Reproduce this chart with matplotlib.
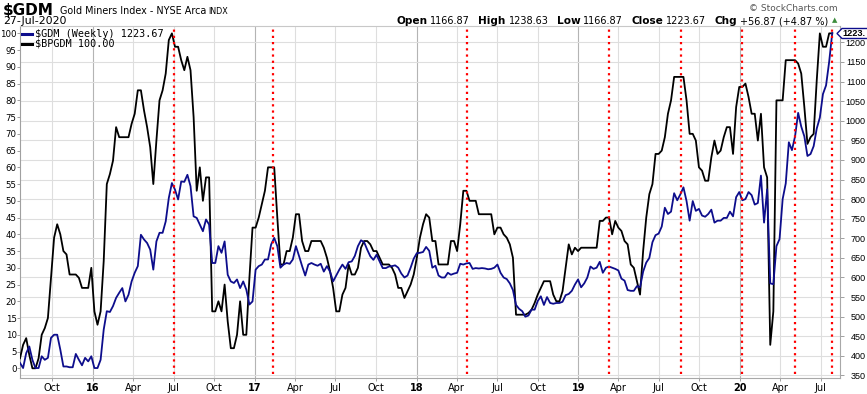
import matplotlib
matplotlib.use("Agg")
import matplotlib.pyplot as plt
import matplotlib.dates as mdates
from matplotlib.lines import Line2D
from matplotlib.patches import Polygon
from matplotlib.transforms import blended_transform_factory
import pandas as pd

W, H = 867, 394

# Weekly closes, 20-Jul-2015 .. 27-Jul-2020
bpgdm = [
    3, 7, 9, 4, 0, 0, 3, 10, 12, 15,
    27, 39, 43, 40, 35, 34, 28, 28, 28, 27,
    24, 24, 24, 30, 17, 13, 17, 32, 55, 58,
    62, 72, 69, 69, 69, 69, 73, 76, 83, 83,
    77, 72, 66, 55, 68, 80, 83, 88, 98, 100,
    96, 96, 92, 89, 93, 89, 75, 53, 60, 50,
    57, 57, 17, 17, 20, 17, 25, 14, 6, 6,
    10, 20, 10, 10, 27, 42, 42, 45, 49, 53,
    60, 60, 60, 45, 31, 31, 35, 35, 39, 46,
    46, 38, 35, 35, 38, 38, 38, 38, 36, 33,
    29, 24, 17, 17, 22, 24, 31, 28, 28, 30,
    36, 38, 38, 37, 35, 35, 33, 31, 31, 31,
    30, 28, 24, 24, 21, 23, 25, 28, 33, 39,
    43, 46, 45, 38, 38, 31, 31, 31, 31, 38,
    38, 35, 43, 53, 53, 50, 50, 50, 46, 46,
    46, 46, 46, 40, 42, 42, 40, 39, 37, 33,
    16, 16, 16, 16, 16.5, 17.5, 19.5, 22, 24, 26,
    26, 26, 22, 20, 20, 23, 30, 37, 34, 36,
    35, 36, 36, 36, 36, 36, 36, 44, 44, 45,
    45, 40, 44, 42, 41, 38, 37, 31, 30, 26,
    22, 35, 45, 52, 55, 64, 64, 65, 69, 76,
    80, 87, 87, 87, 87, 80, 70, 70, 68, 60,
    59, 56, 56, 63, 68, 64, 65, 69, 72, 72,
    64, 78, 84, 84, 85, 81, 76, 76, 68, 76,
    60, 57, 7, 17, 80, 80, 80, 92, 92, 92,
    92, 91, 88, 78, 67, 69, 70, 86, 100, 96,
    96, 100, 100,
]

gdm = [
    382, 369, 407, 424, 390, 369, 369, 399, 390, 395,
    446, 454, 454, 416, 373, 373, 371, 371, 405, 390,
    376, 395, 386, 399, 369, 369, 390, 467, 514, 512,
    527, 548, 561, 573, 539, 556, 590, 612, 629, 709,
    697, 688, 671, 620, 692, 714, 714, 743, 803, 841,
    824, 799, 845, 844, 862, 833, 756, 752, 735, 718,
    748, 735, 637, 637, 680, 663, 692, 607, 590, 586,
    595, 573, 590, 569, 531, 539, 620, 629, 633, 646,
    646, 684, 701, 680, 625, 633, 637, 635, 646, 680,
    655, 629, 605, 633, 637, 633, 630, 635, 615, 629,
    615, 590, 605, 620, 633, 622, 639, 641, 655, 680,
    695, 690, 671, 654, 645, 658, 641, 624, 624, 628,
    629, 631, 625, 610, 600, 605, 625, 648, 662, 663,
    665, 678, 668, 625, 630, 605, 600, 600, 612, 607,
    610, 612, 635, 633, 636, 637, 622, 624, 623, 624,
    623, 621, 622, 625, 633, 612, 600, 596, 585, 568,
    530, 520, 514, 500, 503, 518, 518, 540, 552, 530,
    550, 535, 533, 535, 535, 538, 555, 558, 566, 582,
    595, 575, 585, 600, 628, 622, 625, 640, 612, 625,
    628, 625, 622, 618, 597, 592, 568, 566, 566, 578,
    575, 615, 638, 650, 690, 708, 712, 730, 778, 762,
    768, 815, 797, 812, 830, 795, 745, 795, 770, 775,
    758, 755, 762, 773, 740, 745, 745, 752, 752, 768,
    756, 805, 818, 797, 800, 818, 810, 786, 790, 860,
    740, 825, 585, 583, 680, 698, 800, 840, 945, 925,
    960, 1020, 985, 960, 910, 915, 935, 980, 1008, 1068,
    1090, 1150, 1223.67,
]

dates = pd.date_range("2015-07-20", periods=len(gdm), freq="W-MON")

# hand drawn red markers
marks = ["2016-07-02", "2017-02-11", "2018-04-25", "2019-03-10",
         "2019-08-21", "2020-01-05", "2020-05-04", "2020-07-27"]

left_ticks = list(range(0, 101, 5))
right_ticks = list(range(350, 1201, 50))
quarters = pd.date_range("2015-10-01", "2020-07-01", freq="QS")
month_names = {1: None, 4: "Apr", 7: "Jul", 10: "Oct"}
xlabels = [d.strftime("%y") if d.month == 1 else month_names[d.month] for d in quarters]


def fx(x):
    return x / W


def fy(y):
    return 1 - y / H


fig = plt.figure(figsize=(W / 100, H / 100), dpi=100)
fig.patch.set_facecolor("white")

ax = fig.add_axes([fx(20), fy(378), (840 - 20) / W, (378 - 26) / H])
ax2 = ax.twinx()

x0 = mdates.date2num(dates[0])
ax.set_xlim(x0, x0 + 264.5 * 7)
ax.set_ylim(-2.9, 102.2)
ax2.set_ylim(343.6, 1241.6)

# grid
for d in quarters:
    c = "#b4b4b4" if d.month == 1 else "#dedede"
    ax.axvline(d, color=c, lw=0.8, zorder=0)
hgrid = blended_transform_factory(ax.transAxes, ax2.transData)
for p in right_ticks:
    ax.plot([0, 1], [p, p], transform=hgrid, color="#dedede", lw=0.8, zorder=0)

ax.plot(dates, bpgdm, color="black", lw=1.3, zorder=3)
ax2.plot(dates, gdm, color="#0d0d8c", lw=1.3, zorder=3)

for m in marks:
    ax2.axvline(pd.Timestamp(m), ymin=0.01, ymax=1.0, color="red", lw=1.6,
                ls=(0, (1, 1.8)), zorder=6, clip_on=False)

# spines
for s in ["left", "right", "top", "bottom"]:
    ax2.spines[s].set_visible(False)
ax.spines["right"].set_visible(False)
ax.spines["left"].set_color("#a0a0a0")
ax.spines["top"].set_color("#c8c8c8")
ax.spines["bottom"].set_color("#a8a8a8")
ax.spines["bottom"].set_linestyle((0, (1, 1)))
ax2.spines["right"].set_visible(True)
ax2.spines["right"].set_color("#a8a8a8")
ax2.spines["right"].set_linestyle((0, (1, 1)))

# ticks
ax.set_yticks(left_ticks)
ax.set_yticklabels([str(t) for t in left_ticks], fontsize=6.2)
ax.tick_params(axis="y", length=2, width=0.6, color="#909090", pad=0.5)

ax2.set_yticks(right_ticks)
ax2.set_yticklabels([str(t) for t in right_ticks], fontsize=6.5,
                    family="Liberation Sans", ha="right")
ax2.tick_params(axis="y", length=3, width=0.6, color="#909090", pad=15.5)

ax.set_xticks(quarters)
ax.set_xticklabels(xlabels, fontsize=7)
for lab, d in zip(ax.get_xticklabels(), quarters):
    if d.month == 1:
        lab.set_fontweight("bold")
ax.tick_params(axis="x", length=2, width=0.6, color="#909090", pad=1.5)

# header
fig.text(fx(3), fy(15), "$GDM", fontsize=11, fontweight="bold", va="baseline")
fig.text(fx(60), fy(14), "Gold Miners Index - NYSE Arca", fontsize=6.9, va="baseline")
fig.text(fx(208), fy(14), "INDX", fontsize=5.8, va="baseline")
fig.text(fx(3), fy(24.5), "27-Jul-2020", fontsize=7.9, va="baseline")
fig.text(fx(838), fy(11), "\u00a9 StockCharts.com", fontsize=6.5, color="#555555",
         ha="right", va="baseline")

renderer = fig.canvas.get_renderer()
runs = [("Open", True), ("1166.87", False), ("High", True), ("1238.63", False),
        ("Low", True), ("1166.87", False), ("Close", True), ("1223.67", False),
        ("Chg", True), ("+56.87 (+4.87 %)", False)]
xr = 828
for s, bold in reversed(runs):
    t = fig.text(fx(xr), fy(24), s, ha="right", va="baseline",
                 fontsize=7.6 if bold else 7.0,
                 fontweight="bold" if bold else "normal")
    w = t.get_window_extent(renderer).width
    xr -= w + (3 if not bold else 8)
fig.text(fx(835), fy(20), "\u25b2", fontsize=5, color="#3c8c3c", ha="center", va="center")

# legend
fig.add_artist(Line2D([fx(22), fx(32)], [fy(34), fy(34)], color="#0d0d8c", lw=2.2))
fig.add_artist(Line2D([fx(22), fx(32)], [fy(43.5), fy(43.5)], color="black", lw=2.2))
fig.text(fx(35), fy(34), "$GDM (Weekly) 1223.67", family="DejaVu Sans Mono",
         fontsize=7.3, va="center")
fig.text(fx(35), fy(43.5), "$BPGDM 100.00", family="DejaVu Sans Mono",
         fontsize=7.3, va="center")

# last value flag (cut by the right edge, as on the original)
flag = Polygon([(fx(837), fy(33.5)), (fx(842), fy(28.5)), (fx(870), fy(28.5)),
                (fx(870), fy(38.5)), (fx(842), fy(38.5))], closed=True,
               transform=fig.transFigure, facecolor="white", edgecolor="#0d0d8c", lw=1)
fig.add_artist(flag)
fig.text(fx(842), fy(33.5), "1223.", fontsize=6.6, fontweight="bold",
         family="Liberation Sans", va="center")

fig.savefig("out.png", dpi=100)
